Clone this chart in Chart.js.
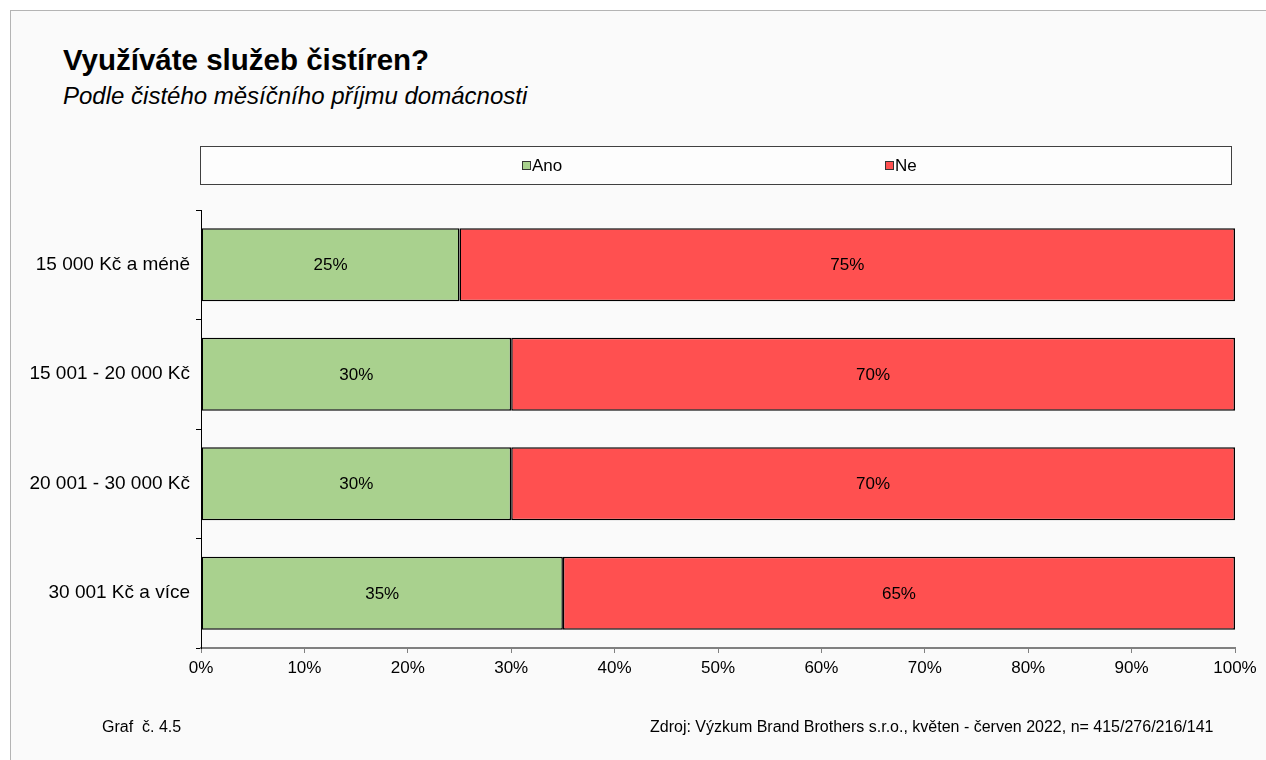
<!DOCTYPE html>
<html lang="cs">
<head>
<meta charset="utf-8">
<title>Využíváte služeb čistíren?</title>
<script src="https://cdn.jsdelivr.net/npm/chart.js@4.4.1/dist/chart.umd.min.js"></script>
<style>
    body { margin: 0; background: #ffffff; font-family: "Liberation Sans", Arial, sans-serif; }
    #page { position: relative; width: 1266px; height: 760px; overflow: hidden; }
    #frame { position: absolute; left: 10px; top: 10px; width: 1300px; height: 800px;
             border: 1px solid #b4b4b4; background: #fafafa; }
    .txt { position: absolute; white-space: nowrap; color: #000; }
    #title { left: 63px; top: 45px; font-size: 29.5px; line-height: 29px; font-weight: bold; }
    #subtitle { left: 63px; top: 84px; font-size: 24px; line-height: 24px; font-style: italic; }
    #graf { left: 102px; top: 719px; font-size: 16px; line-height: 16px; }
    #zdroj { left: 650px; top: 719px; font-size: 16px; line-height: 16px; }
    canvas { position: absolute; left: 0; top: 0; }
</style>
</head>
<body>
<div id="page">
    <div id="frame"></div>
    <div class="txt" id="title">Využíváte služeb čistíren?</div>
    <div class="txt" id="subtitle">Podle čistého měsíčního příjmu domácnosti</div>
    <canvas id="cleanersChart" width="1266" height="760"></canvas>
    <div class="txt" id="graf">Graf&nbsp; č. 4.5</div>
    <div class="txt" id="zdroj">Zdroj: Výzkum Brand Brothers s.r.o., květen - červen 2022, n= 415/276/216/141</div>
</div>
<script>
// Income groups and answer shares (%)
const incomeGroups = ["15 000 Kč a méně", "15 001 - 20 000 Kč", "20 001 - 30 000 Kč", "30 001 Kč a více"];
const anoValues = [25, 30, 30, 35];
const neValues = [75, 70, 70, 65];
const xTicks = [0, 10, 20, 30, 40, 50, 60, 70, 80, 90, 100];

const FONT = "'Liberation Sans', Arial, sans-serif";

// legend box above the plot, drawn by hand
const boxLegend = {
    id: 'boxLegend',
    afterDraw(chart) {
        const ctx = chart.ctx;
        ctx.save();
        ctx.fillStyle = '#fdfdfd';
        ctx.fillRect(200.5, 146.5, 1031, 38);
        ctx.strokeStyle = '#404040';
        ctx.lineWidth = 1;
        ctx.strokeRect(200.5, 146.5, 1031, 38);
        const itemX = [522, 885];
        ctx.font = '17px ' + FONT;
        ctx.textBaseline = 'alphabetic';
        chart.data.datasets.forEach((ds, i) => {
            ctx.fillStyle = ds.backgroundColor;
            ctx.fillRect(itemX[i] + 0.5, 161.5, 8, 8);
            ctx.strokeStyle = '#333';
            ctx.strokeRect(itemX[i] + 0.5, 161.5, 8, 8);
            ctx.fillStyle = '#000';
            ctx.fillText(ds.label, itemX[i] + 10, 171);
        });
        ctx.restore();
    }
};

// percentage labels in the middle of each segment
const segmentLabels = {
    id: 'segmentLabels',
    afterDatasetsDraw(chart) {
        const ctx = chart.ctx;
        ctx.save();
        ctx.font = '17px ' + FONT;
        ctx.fillStyle = '#000';
        ctx.textAlign = 'center';
        ctx.textBaseline = 'middle';
        chart.data.datasets.forEach((ds, i) => {
            chart.getDatasetMeta(i).data.forEach((bar, j) => {
                const mid = (bar.x + bar.base) / 2;
                ctx.fillText(Math.round(ds.data[j]) + '%', mid, bar.y + 1);
            });
        });
        ctx.restore();
    }
};

const ctx = document.getElementById('cleanersChart').getContext('2d');

new Chart(ctx, {
    type: 'bar',
    data: {
        labels: incomeGroups,
        datasets: [
            { label: 'Ano', data: anoValues, backgroundColor: '#a9d18e', borderColor: '#000', borderWidth: 1.5,
              borderSkipped: false, categoryPercentage: 1, barPercentage: 0.667 },
            { label: 'Ne', data: neValues, backgroundColor: '#ff5050', borderColor: '#000', borderWidth: 1.5,
              borderSkipped: false, categoryPercentage: 1, barPercentage: 0.667 }
        ]
    },
    options: {
        indexAxis: 'y',
        responsive: false,
        devicePixelRatio: 1,
        animation: false,
        layout: { padding: { left: 0, top: 210, right: 31, bottom: 72 } },
        plugins: {
            legend: { display: false },
            tooltip: { enabled: false }
        },
        scales: {
            x: {
                stacked: true,
                min: 0,
                max: 100,
                afterBuildTicks(scale) { scale.ticks = xTicks.map(v => ({ value: v })); },
                afterFit(scale) { scale.height = 40; },
                ticks: {
                    callback: v => v + '%',
                    color: '#000',
                    font: { family: FONT, size: 17 },
                    padding: 5,
                    maxRotation: 0
                },
                grid: { drawOnChartArea: false, drawTicks: true, tickLength: 5, color: '#808080' },
                border: { color: '#808080', width: 2 }
            },
            y: {
                stacked: true,
                afterFit(scale) { scale.width = 201; },
                ticks: {
                    color: '#000',
                    font: { family: FONT, size: 19 },
                    padding: 6
                },
                grid: { drawOnChartArea: false, drawTicks: true, tickLength: 5, offset: true, color: '#000' },
                border: { color: '#000', width: 1 }
            }
        }
    },
    plugins: [boxLegend, segmentLabels]
});
</script>
</body>
</html>
